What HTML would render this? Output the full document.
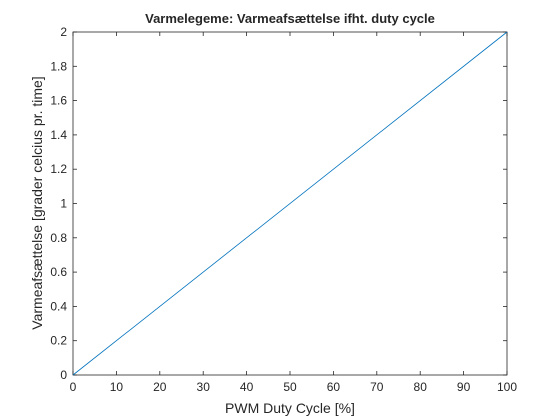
<!DOCTYPE html>
<html><head><meta charset="utf-8"><style>
html,body{margin:0;padding:0;background:#fff;width:560px;height:420px;overflow:hidden}
svg text{font-family:"Liberation Sans",sans-serif;fill:#262626}
</style></head><body>
<svg id="chart" width="560" height="420" xmlns="http://www.w3.org/2000/svg">
<rect x="0" y="0" width="560" height="420" fill="#fff"/>
<rect x="73" y="32" width="434" height="343" fill="#fff" stroke="#262626" stroke-width="0.8"/>
<g id="ticks"></g>
<polyline id="series" fill="none" stroke="#0072bd" stroke-width="0.8"/>
<text x="290" y="23" text-anchor="middle" font-size="13" font-weight="bold" fill="#000">Varmelegeme: Varmeafsættelse ifht. duty cycle</text>
<text x="290" y="413" text-anchor="middle" font-size="14">PWM Duty Cycle [%]</text>
<text transform="translate(42,203) rotate(-90)" text-anchor="middle" font-size="14">Varmeafsættelse [grader celcius pr. time]</text>
</svg>
<script>
const xTicks=[0,10,20,30,40,50,60,70,80,90,100];
const yTicks=[0,0.2,0.4,0.6,0.8,1,1.2,1.4,1.6,1.8,2];
const yTickLabels=["0","0.2","0.4","0.6","0.8","1","1.2","1.4","1.6","1.8","2"];
const dutyCycle=[0,100];
const heatRate=[0,2];
const L=73,R=507,T=32,B=375;
const xs=v=>L+(v-0)/(100-0)*(R-L);
const ys=v=>B-(v-0)/(2-0)*(B-T);
const NS="http://www.w3.org/2000/svg";
const g=document.getElementById('ticks');
function mk(tag,attrs){const e=document.createElementNS(NS,tag);for(const k in attrs)e.setAttribute(k,attrs[k]);g.appendChild(e);return e;}
xTicks.forEach(v=>{
  const x=xs(v);
  const t1=mk('line',{x1:x,x2:x,y1:B,y2:B-4,stroke:'#262626','stroke-width':0.8});
  
  
  const t2=mk('line',{x1:x,x2:x,y1:T,y2:T+4,stroke:'#262626','stroke-width':0.8});
  
  
  const tx=mk('text',{x:x,y:B+16,'text-anchor':'middle','font-size':12});
  tx.textContent=String(v);
  
  
});
yTicks.forEach((v,i)=>{
  const y=ys(v);
  const t1=mk('line',{x1:L,x2:L+4,y1:y,y2:y,stroke:'#262626','stroke-width':0.8});
  
  
  const t2=mk('line',{x1:R,x2:R-4,y1:y,y2:y,stroke:'#262626','stroke-width':0.8});
  
  
  const tx=mk('text',{x:L-6,y:y+4,'text-anchor':'end','font-size':12});
  tx.textContent=yTickLabels[i];
  
  
});
document.getElementById('series').setAttribute('points',dutyCycle.map((d,i)=>xs(d)+','+ys(heatRate[i])).join(' '));
</script>
</body></html>
